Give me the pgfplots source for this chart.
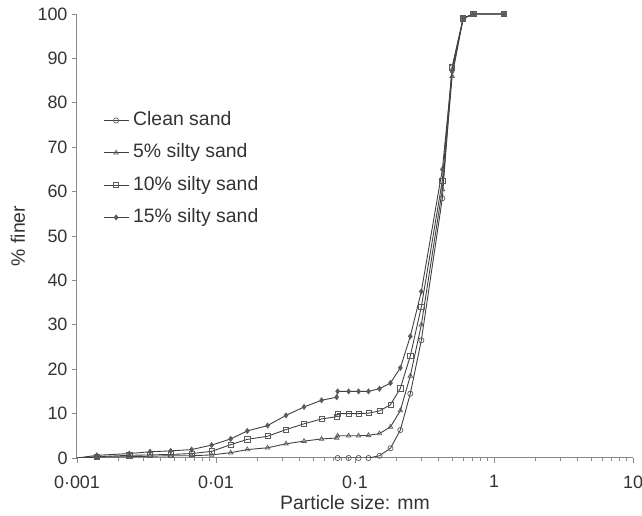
\documentclass[border=0pt]{standalone}
\usepackage{pgfplots}
\pgfplotsset{compat=1.18}
\usepackage{fontspec}
\setmainfont{Liberation Sans}
\definecolor{txt}{HTML}{333333}
\definecolor{axc}{HTML}{8A8A8A}
\definecolor{ln}{HTML}{404040}
\definecolor{mk}{HTML}{5A5A5A}
\begin{document}
\begin{tikzpicture}[x=1bp,y=1bp]
\begin{axis}[
  at={(0,0)}, anchor=south west,
  scale only axis, width=556bp, height=444bp,
  xmode=log, xmin=0.001, xmax=10, ymin=0, ymax=100,
  xtick={0.001,0.01,0.1,1,10},
  xticklabels={0·001,0·01,0·1,1,10},
  ytick={0,10,...,100},
  minor xtick={},
  axis x line*=bottom, axis y line*=left,
  axis line style={axc, line width=1pt, -},
  tick style={axc, line width=0.8pt},
  tick align=outside, major tick length=5bp,
  /pgf/number format/assume math mode=true,
  ticklabel style={font=\fontsize{18}{21}\selectfont, text=txt},
  xticklabel style={yshift=-9bp},
  yticklabel style={xshift=-1bp},
  xlabel={Particle size: mm},
  ylabel={\% finer},
  label style={font=\fontsize{19.5}{22}\selectfont, text=txt},
  xlabel style={at={(axis description cs:0.5,-0.1)}, anchor=center},
  ylabel style={at={(axis description cs:-0.106,0.5)}, anchor=center},
  legend cell align=left,
  legend image code/.code={\draw[mark repeat=2,mark phase=2,#1] plot coordinates {(0bp,0bp) (12.5bp,0bp) (25bp,0bp)};},
  legend style={draw=none, fill=none, inner sep=0pt,
    at={(axis description cs:0.0468,0.782)}, anchor=north west,
    font=\fontsize{19.5}{22}\selectfont, text=txt,
    row sep=13.3bp,
    nodes={inner sep=1.5bp, text height=13bp, text depth=3bp},
    mark size=2.2bp},
  every axis plot/.append style={line width=0.9pt, color=ln, mark size=2.6bp},
]
% Clean sand
\addplot[mark=o, mark options={draw=mk, fill=white, line width=0.7pt}] coordinates {
(0.075,0) (0.09,0) (0.106,0) (0.125,0) (0.15,0.5) (0.18,2.2) (0.212,6.3) (0.25,14.5) (0.3,26.5) (0.425,58.5) (0.5,88) (0.6,99) (0.71,100) (1.18,100)
};
\addlegendentry{\hspace{2.5bp}Clean sand}
% 5% silty sand
\addplot[mark=triangle, mark options={draw=mk, fill=white, line width=0.7pt}] coordinates {
(0.00139,0.2) (0.00238,0.3) (0.00335,0.4) (0.00472,0.5) (0.00668,0.5) (0.0093,0.7) (0.01276,1.2) (0.0168,1.9) (0.0235,2.3) (0.0319,3.2) (0.043,3.8) (0.0575,4.3) (0.0738,4.5)
(0.075,5.0) (0.09,5.0) (0.106,5.0) (0.125,5.1) (0.15,5.5) (0.18,7.0) (0.212,10.7) (0.25,18.5) (0.3,30) (0.425,60.5) (0.5,86) (0.6,99) (0.71,100) (1.18,100)
};
\addlegendentry{\hspace{2.5bp}5\% silty sand}
% 10% silty sand
\addplot[mark=square, mark options={draw=mk, fill=white, line width=0.7pt}] coordinates {
(0.00139,0.3) (0.00238,0.6) (0.00335,0.7) (0.00472,0.8) (0.00668,1.0) (0.0093,1.5) (0.01276,3.0) (0.0168,4.2) (0.0235,4.9) (0.0319,6.4) (0.043,7.7) (0.0575,8.8) (0.0738,9.3)
(0.075,10) (0.09,10) (0.106,10) (0.125,10.1) (0.15,10.6) (0.18,12) (0.212,15.7) (0.25,23) (0.3,34) (0.425,62.5) (0.5,88) (0.6,99) (0.71,100) (1.18,100)
};
\addlegendentry{\hspace{2.5bp}10\% silty sand}
% 15% silty sand
\addplot[mark=diamond*, mark options={draw=mk, fill=mk, line width=0.6pt}] coordinates {
(0.00139,0.6) (0.00238,1.0) (0.00335,1.4) (0.00472,1.6) (0.00668,1.9) (0.0093,2.9) (0.01276,4.3) (0.0168,6.1) (0.0235,7.3) (0.0319,9.6) (0.043,11.5) (0.0575,13.0) (0.0738,13.7)
(0.075,15) (0.09,15) (0.106,15) (0.125,15) (0.15,15.6) (0.18,16.9) (0.212,20.3) (0.25,27.4) (0.3,37.5) (0.425,65) (0.5,87) (0.6,99) (0.71,100) (1.18,100)
};
\addlegendentry{\hspace{2.5bp}15\% silty sand}
% leading line segments from the axis to the first hydrometer reading
\addplot[forget plot, mark=none] coordinates {(0.001,0) (0.00139,0.2)};
\addplot[forget plot, mark=none] coordinates {(0.001,0) (0.00139,0.3)};
\addplot[forget plot, mark=none] coordinates {(0.001,0) (0.00139,0.6)};
\end{axis}
\pgfresetboundingbox
\path (-77,-58) rectangle (565,458);
\end{tikzpicture}
\end{document}
